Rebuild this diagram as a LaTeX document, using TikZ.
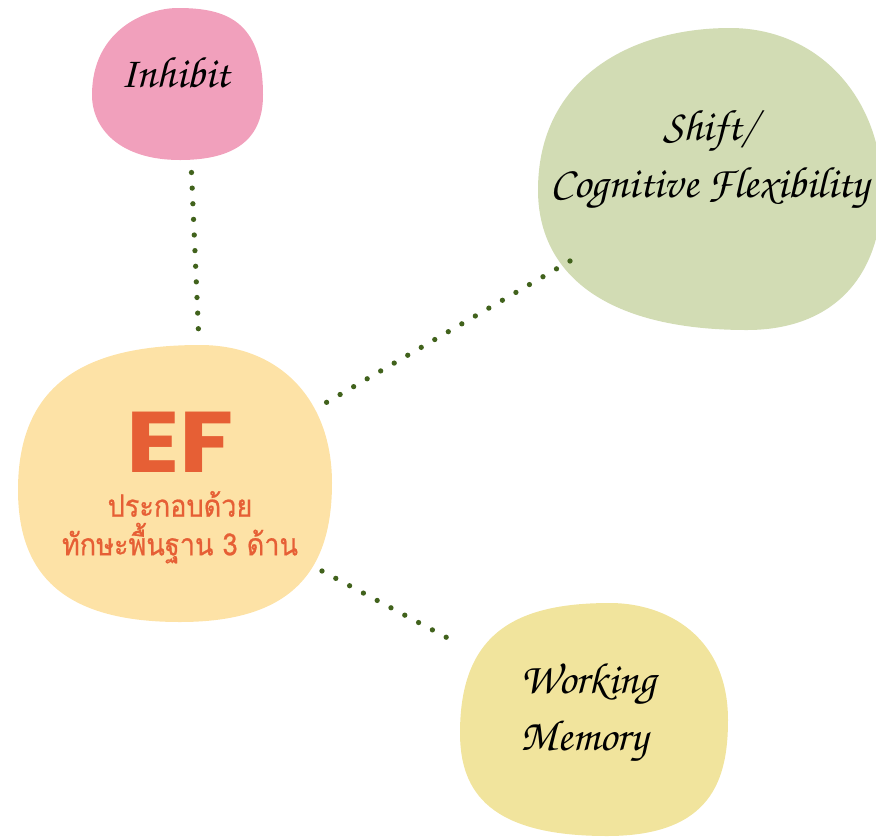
\documentclass[tikz,border=0pt]{standalone}
\usepackage[T1]{fontenc}
\usepackage{fontspec}
\newfontfamily\thaifont[Script=Thai,FakeStretch=0.88,FakeBold=0.6]{Loma}
\newfontfamily\efont[FakeStretch=1.15]{Poppins}
\newcommand\handfont{\fontencoding{T1}\fontfamily{pzc}\fontseries{mb}\fontshape{it}\selectfont}

\definecolor{pinkblob}{HTML}{F1A0BC}
\definecolor{greenblob}{HTML}{D2DCB4}
\definecolor{peachblob}{HTML}{FDE2A6}
\definecolor{yellowblob}{HTML}{F1E49D}
\definecolor{eforange}{HTML}{E65F35}
\definecolor{dotgreen}{HTML}{41621C}

\tikzset{
	dots/.style={dotgreen, line width=3pt, line cap=round, dash pattern=on 0pt off 8.9pt},
	hand/.style={font=\handfont\fontsize{25}{32}\selectfont, text=black}
}

\begin{document}
\begin{tikzpicture}[x=0.02cm, y=-0.02cm]
	\useasboundingbox (0,0) rectangle (876,836);
	\begin{scope}
	\clip (0,0) rectangle (876,836);
	% blobs
	\fill [pinkblob] (178,8) .. controls (225,8) and (263,20) .. (263,95)
		.. controls (263,128) and (248,160) .. (180,160)
		.. controls (119,160) and (92,128) .. (92,95)
		.. controls (92,30) and (146,8) .. cycle;
	\fill [greenblob] (730,28) .. controls (820,28) and (882,100) .. (882,190)
		.. controls (882,280) and (830,330) .. (747,330)
		.. controls (600,330) and (538,270) .. (538,190)
		.. controls (538,78) and (631,28) .. cycle;
	\fill [peachblob] (200,345) .. controls (280,345) and (332,400) .. (332,483)
		.. controls (332,573) and (290,622) .. (180,622)
		.. controls (70,622) and (18,580) .. (18,490)
		.. controls (18,380) and (90,345) .. cycle;
	\fill [yellowblob] (610,603) .. controls (666,603) and (728,636) .. (728,720)
		.. controls (728,779) and (712,836) .. (607,836)
		.. controls (491,836) and (460,793) .. (460,733)
		.. controls (460,632) and (517,603) .. cycle;
	\end{scope}

	% labels
	\node [hand] (inhibit) at (175,72) {Inhibit};
	\node [hand, align=center] (shift) at (710,160) {Shift/\\Cognitive Flexibility};
	\node [hand, align=left, anchor=west] (wm) at (514,713) {Working\\Memory};
	\node [text=eforange, inner sep=0pt, anchor=north, align=center, font=\thaifont\fontsize{17.5}{22}\selectfont] (ef) at (180,412)
		{{\efont\bfseries\fontsize{49}{50}\selectfont EF}\\[3pt]ประกอบด้วย\\ทักษะพื้นฐาน 3 ด้าน};

	% dotted links
	\coordinate (inhibitend) at (191.5,172.5);
	\coordinate (efup) at (199,343);
	\coordinate (shiftend) at (570,261);
	\coordinate (efright) at (322,405);
	\coordinate (efdown) at (322,571);
	\coordinate (wmend) at (457,643);
	\draw [dots] (inhibitend) -- (efup);
	\draw [dots] (shiftend) -- (efright);
	\draw [dots] (efdown) -- (wmend);
\end{tikzpicture}
\end{document}
